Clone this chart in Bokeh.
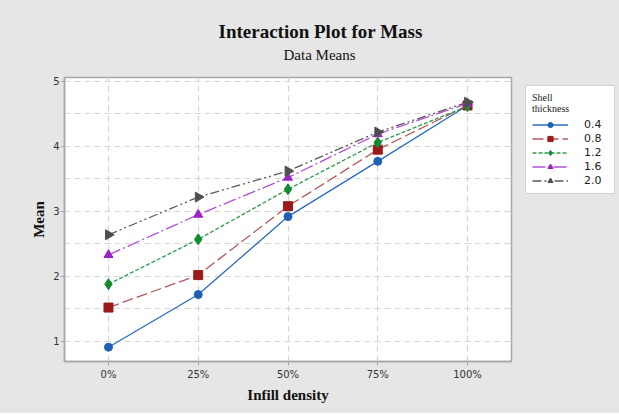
import math
from bokeh.plotting import figure
from bokeh.layouts import row
from bokeh.models import FixedTicker, Title, Legend, LegendItem, Range1d
from bokeh.embed import file_html
from bokeh.resources import INLINE

# ---- data ----
infill_density = ["0%", "25%", "50%", "75%", "100%"]
shell_thickness = ["0.4", "0.8", "1.2", "1.6", "2.0"]
mean_04 = [0.91, 1.72, 2.92, 3.77, 4.63]
mean_08 = [1.52, 2.02, 3.08, 3.95, 4.63]
mean_12 = [1.88, 2.57, 3.34, 4.06, 4.62]
mean_16 = [2.33, 2.95, 3.52, 4.19, 4.66]
mean_20 = [2.64, 3.22, 3.62, 4.22, 4.68]
y_ticks = [1, 2, 3, 4, 5]

series = [mean_04, mean_08, mean_12, mean_16, mean_20]
colors = ["#1f5fb4", "#9a1a1a", "#138a2e", "#9b22c4", "#4f4f4f"]
line_colors = ["#2a6cc0", "#b5585a", "#2f9a48", "#b050d8", "#5a5a5a"]
dashes = ["solid", "11 4", "4 2", "13 3 2 3", "9 3 2 3 2 3"]
markers = ["circle", "square", "diamond", "triangle", "triangle"]
angles = [0, 0, 0, 0, -math.pi / 2]
sizes = [8, 9, 11, 9, 10]
BG = "#e6e6e6"

H = 413
p = figure(width=517, height=H, output_backend="svg", toolbar_location=None,
           x_range=Range1d(-0.49, 4.49), y_range=Range1d(0.69, 5.06),
           min_border_left=64, min_border_right=6, min_border_top=77,
           min_border_bottom=52)
p.title = None
p.border_fill_color = BG
p.background_fill_color = "white"
p.outline_line_color = "#a8a8a8"
p.outline_line_width = 1.5

x = list(range(len(infill_density)))
for i, ys in enumerate(series):
    p.line(x, ys, line_color=line_colors[i], line_width=1.3, line_dash=dashes[i])
    p.scatter(x, ys, marker=markers[i], size=sizes[i], angle=angles[i],
              fill_color=colors[i], line_color=colors[i])

# axes
p.xaxis.ticker = FixedTicker(ticks=x)
p.xaxis.major_label_overrides = {i: lab for i, lab in enumerate(infill_density)}
p.yaxis.ticker = FixedTicker(ticks=y_ticks, minor_ticks=[0.5 + t for t in y_ticks])
for ax in (p.xaxis[0], p.yaxis[0]):
    ax.axis_line_color = "#a8a8a8"
    ax.axis_line_width = 1.5
    ax.major_tick_line_color = "#a8a8a8"
    ax.major_tick_in = 0
    ax.major_tick_out = 4
    ax.minor_tick_line_color = None
    ax.major_label_text_font = "DejaVu Sans"
    ax.major_label_text_font_size = "10px"
    ax.major_label_text_color = "#333333"
    ax.axis_label_text_font = "Liberation Serif"
    ax.axis_label_text_font_style = "bold"
    ax.axis_label_text_font_size = "15px"
    ax.axis_label_text_color = "#111111"
p.xaxis.axis_label = "Infill density"
p.yaxis.axis_label = "Mean"
p.xaxis.major_label_standoff = 3
p.yaxis.major_label_standoff = 1
p.xaxis.axis_label_standoff = 4
p.yaxis.axis_label_standoff = 3

# grid
p.xgrid.ticker = FixedTicker(ticks=x)
p.ygrid.ticker = FixedTicker(ticks=y_ticks, minor_ticks=[0.5 + t for t in y_ticks])
for g in (p.xgrid[0], p.ygrid[0]):
    g.grid_line_color = "#d6d6d6"
    g.grid_line_dash = "6 4"
    g.grid_line_width = 1.2
p.ygrid.minor_grid_line_color = "#d6d6d6"
p.ygrid.minor_grid_line_dash = "6 4"
p.ygrid.minor_grid_line_width = 1.2

# titles
sub = Title(text="Data Means", align="left", offset=219, text_font="Liberation Serif",
            text_font_size="15px", text_font_style="normal", text_color="#111111",
            standoff=29)
p.add_layout(sub, "above")
main = Title(text="Interaction Plot for Mass", align="left", offset=154,
             text_font="Liberation Serif", text_font_size="19px",
             text_font_style="bold", text_color="#111111", standoff=-22)
p.add_layout(main, "above")

# ---- legend panel (separate figure to the right; series drawn off-screen) ----
lf = figure(width=102, height=H, output_backend="svg", toolbar_location=None,
            x_range=Range1d(-100, -99), y_range=Range1d(-100, -99),
            min_border_left=0, min_border_right=0, min_border_top=59,
            min_border_bottom=0)
lf.title = None
lf.axis.visible = False
lf.grid.visible = False
lf.outline_line_color = None
lf.border_fill_color = BG
lf.background_fill_color = BG
items = []
for i, ys in enumerate(series):
    r1 = lf.line(x, ys, line_color=line_colors[i], line_width=1.3, line_dash=dashes[i])
    r2 = lf.scatter(x, ys, marker=markers[i], size=sizes[i] - 1, angle=angles[i],
                    fill_color=colors[i], line_color=colors[i])
    items.append(LegendItem(label=shell_thickness[i], renderers=[r1, r2]))

legend = Legend(items=items, location="top_left", title="Shell\nthickness",
                title_text_font="Liberation Serif", title_text_font_size="10px",
                title_text_font_style="normal", title_text_color="#222222",
                title_standoff=4,
                label_text_font="DejaVu Sans", label_text_font_size="11px",
                label_text_color="#222222",
                glyph_width=36, glyph_height=13, label_standoff=16, label_width=24,
                spacing=1, padding=6, margin=8,
                border_line_color="#a8a8a8", border_line_width=1.2,
                background_fill_color="white", background_fill_alpha=1.0)
lf.add_layout(legend, "center")

layout = row(p, lf, spacing=0, styles={"background-color": BG})
open("out.html", "w").write(file_html(layout, INLINE))
